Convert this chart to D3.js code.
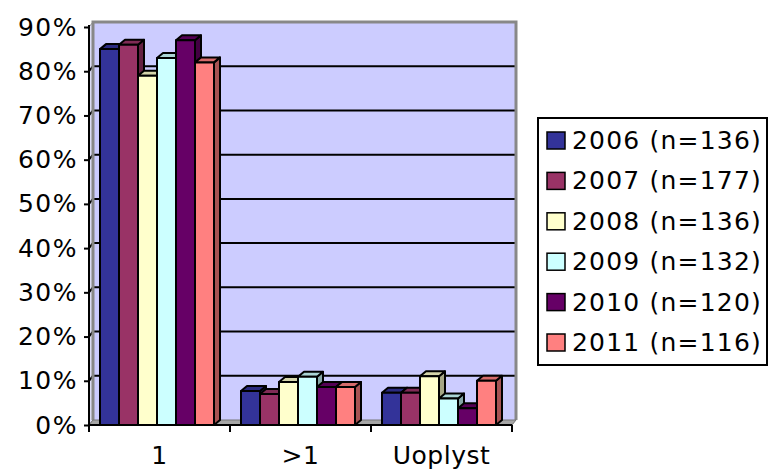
<!DOCTYPE html>
<html>
<head>
<meta charset="utf-8">
<script src="https://cdn.jsdelivr.net/npm/d3@7"></script>
<style>
  body { margin: 0; background: #fff; }
  text { font-family: "DejaVu Sans", Verdana, sans-serif; fill: #000; }
</style>
</head>
<body>
<div id="chart"></div>
<script>
// categories on the x axis
var categories = ['1', '>1', 'Uoplyst']

// legend names, one per year
var seriesNames = ['2006 (n=136)', '2007 (n=177)', '2008 (n=136)', '2009 (n=132)', '2010 (n=120)', '2011 (n=116)']

// percent per category, one array per year
var v2006 = [85, 7.7, 7.3]
var v2007 = [86, 7.0, 7.3]
var v2008 = [79, 9.7, 11.0]
var v2009 = [83, 10.9, 6.0]
var v2010 = [87, 8.6, 3.8]
var v2011 = [82, 8.6, 10.0]

var seriesColors = ['#333399', '#993366', '#ffffcc', '#ccffff', '#660066', '#ff8080']
var yTicks = [0, 10, 20, 30, 40, 50, 60, 70, 80, 90]

var seriesValues = [v2006, v2007, v2008, v2009, v2010, v2011]

var width = 768
var height = 470

// 3d offsets: wall depth and bar depth
var wdx = 4, wdy = 5
var bdx = 6, bdy = 5

var svg = d3.select('#chart')
    .append('svg')
    .attr('width', width)
    .attr('height', height)

var y = d3.scaleLinear().domain([0, 90]).range([425, 27])
var x = d3.scaleBand().domain(categories).range([89, 512])
var xs = d3.scaleBand().domain(seriesNames).range([11, 125])

var x0 = x.range()[0], x1 = x.range()[1]
var yb = y(0), yt = y(90)

// left wall
svg.append('polygon')
    .attr('points', [[x0, yb], [x0, yt], [x0 + wdx, yt - wdy], [x0 + wdx, yb - wdy]].join(' '))
    .style('fill', '#dcdcf5')
    .style('stroke', '#909090')
    .style('stroke-width', 1)

// back wall
svg.append('rect')
    .attr('x', x0 + wdx)
    .attr('y', yt - wdy)
    .attr('width', x1 - x0)
    .attr('height', yb - yt)
    .style('fill', '#ccccff')

// gridlines running over left and back wall
yTicks.filter(function (d) { return d > 0 && d < 90 }).forEach(function (d) {
    svg.append('polyline')
        .attr('points', [[x0, y(d)], [x0 + wdx, y(d) - wdy], [x1 + wdx, y(d) - wdy]].join(' '))
        .style('fill', 'none')
        .style('stroke', '#000')
        .style('stroke-width', 2)
})

// gray edges of the back wall
svg.append('polyline')
    .attr('points', [[x0 + wdx, yb - wdy], [x0 + wdx, yt - wdy], [x1 + wdx, yt - wdy], [x1 + wdx, yb - wdy]].join(' '))
    .style('fill', 'none')
    .style('stroke', '#888')
    .style('stroke-width', 3)

// floor
svg.append('polygon')
    .attr('points', [[x0, yb], [x1, yb], [x1 + wdx, yb - wdy], [x0 + wdx, yb - wdy]].join(' '))
    .style('fill', '#a6a6a6')
    .style('stroke', '#777')
    .style('stroke-width', 1)

// bars, drawn left to right so each front covers the previous side face
var bw = xs.bandwidth()
categories.forEach(function (cat, j) {
    seriesNames.forEach(function (name, i) {
        var c = seriesColors[i]
        var bx = x(cat) + xs(name)
        var top = y(seriesValues[i][j])
        var g = svg.append('g')
            .style('stroke', '#000')
            .style('stroke-width', 2)
            .style('stroke-linejoin', 'round')
        g.append('polygon')
            .attr('points', [[bx + bw, top], [bx + bw + bdx, top - bdy], [bx + bw + bdx, yb - bdy], [bx + bw, yb]].join(' '))
            .style('fill', d3.rgb(c).darker(1.2))
        g.append('polygon')
            .attr('points', [[bx, top], [bx + bdx, top - bdy], [bx + bw + bdx, top - bdy], [bx + bw, top]].join(' '))
            .style('fill', d3.rgb(c).darker(0.5))
        g.append('rect')
            .attr('x', bx)
            .attr('y', top)
            .attr('width', bw)
            .attr('height', yb - top)
            .style('fill', c)
    })
})

// y axis
var yAxis = svg.append('g')
    .attr('transform', 'translate(' + x0 + ',0)')
    .call(d3.axisLeft(y).tickValues(yTicks).tickFormat(function (d) { return d + '%' }).tickSize(5).tickSizeOuter(0).tickPadding(6))
yAxis.select('.domain').remove()
yAxis.selectAll('.tick line').style('stroke', '#000').style('stroke-width', 2)
yAxis.selectAll('text').style('font-size', '25px').style('letter-spacing', '1.5px')
svg.append('line')
    .attr('x1', x0).attr('x2', x0)
    .attr('y1', yt - 2).attr('y2', yb + 7)
    .style('stroke', '#000')
    .style('stroke-width', 2)

// x axis, labels in the band centres
var xAxis = svg.append('g')
    .attr('transform', 'translate(0,' + (yb + 6) + ')')
    .call(d3.axisBottom(x).tickSize(0).tickPadding(15))
xAxis.select('.domain').remove()
xAxis.selectAll('text').style('font-size', '25px').style('letter-spacing', '0.5px')
svg.append('line')
    .attr('x1', x0).attr('x2', x1)
    .attr('y1', yb).attr('y2', yb)
    .style('stroke', '#000')
    .style('stroke-width', 2)
var edges = categories.map(function (d) { return x(d) }).concat([x1])
svg.selectAll('.xtick')
    .data(edges)
    .enter()
    .append('line')
    .attr('x1', function (d) { return d })
    .attr('x2', function (d) { return d })
    .attr('y1', yb)
    .attr('y2', yb + 7)
    .style('stroke', '#000')
    .style('stroke-width', 2)

// legend
var legend = svg.append('g')
legend.append('rect')
    .attr('x', 538)
    .attr('y', 118)
    .attr('width', 229)
    .attr('height', 247)
    .style('fill', '#fff')
    .style('stroke', '#000')
    .style('stroke-width', 2)
seriesNames.forEach(function (name, i) {
    var cy = 140 + i * 40.4
    legend.append('rect')
        .attr('x', 547)
        .attr('y', cy - 8)
        .attr('width', 18)
        .attr('height', 17)
        .style('fill', seriesColors[i])
        .style('stroke', '#000')
        .style('stroke-width', 1.5)
    legend.append('text')
        .attr('x', 572)
        .attr('y', cy)
        .attr('dy', '0.36em')
        .style('font-size', '25px')
        .style('letter-spacing', '1.2px')
        .text(name)
})
</script>
</body>
</html>
